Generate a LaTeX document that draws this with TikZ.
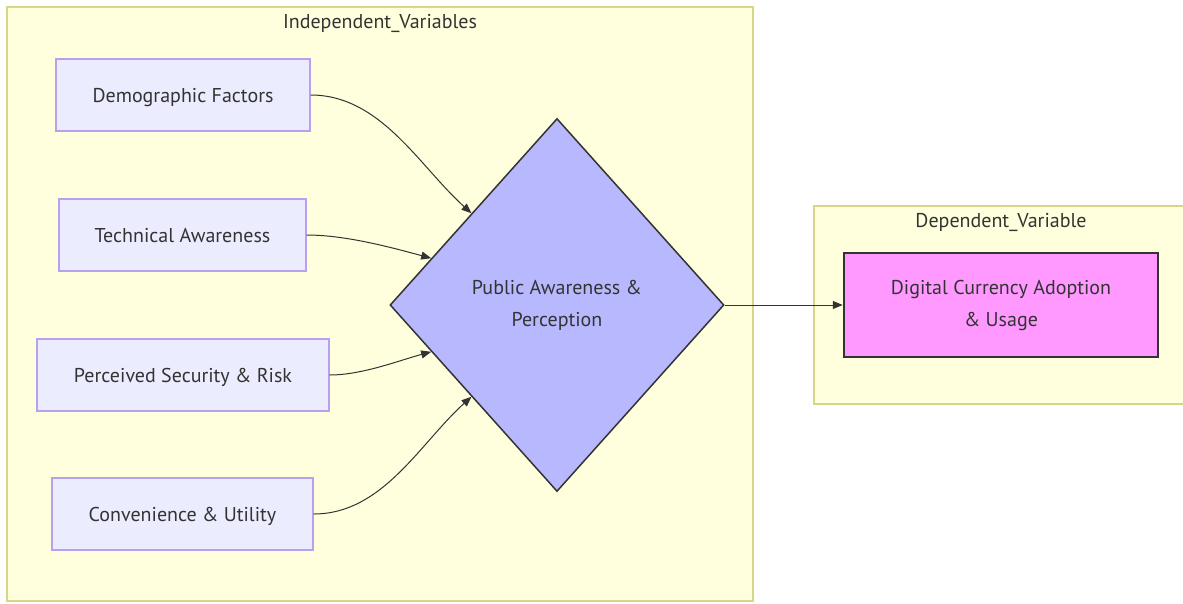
\documentclass[tikz,border=0pt]{standalone}
\usepackage{fontspec}
\setmainfont{PT Sans}
\usetikzlibrary{shapes.geometric,arrows.meta,calc}
\definecolor{clfill}{HTML}{FFFFDE}
\definecolor{clstroke}{HTML}{D6D68A}
\definecolor{nfill}{HTML}{ECECFF}
\definecolor{nstroke}{HTML}{B9A0EE}
\definecolor{dfill}{HTML}{B8B8FF}
\definecolor{tfill}{HTML}{FF99FF}
\definecolor{txt}{HTML}{333333}
\tikzset{
  cluster/.style={draw=clstroke, fill=clfill, line width=1.5pt},
  clabel/.style={text=txt, font=\fontsize{20}{24}\selectfont, inner sep=0pt},
  factor/.style={draw=nstroke, fill=nfill, line width=1.3pt, text=txt, font=\fontsize{20}{24}\selectfont, inner sep=0pt, text depth=0pt},
  hub/.style={diamond, draw=txt, fill=dfill, line width=1.5pt, text=txt, font=\fontsize{20}{32}\selectfont, align=center, inner sep=0pt, minimum width=334pt, minimum height=373pt},
  target/.style={draw=txt, fill=tfill, line width=2.5pt, text=txt, font=\fontsize{20}{32}\selectfont, align=center, inner sep=0pt},
  link/.style={draw=txt, line width=1pt, -{Triangle[length=10pt,width=8pt]}}
}
\begin{document}
\begin{tikzpicture}[x=1pt,y=-1pt]
\useasboundingbox (0,0) rectangle (1183,603);
\fill[white] (0,0) rectangle (1183,603);
\draw[cluster] (7,7) rectangle (753,601);
\node[clabel] (lind) at (380,23) {Independent\_Variables};
\draw[cluster] (814,206) rectangle (1190,404);
\node[clabel] (ldep) at (1001,222) {Dependent\_Variable};

\node[factor, minimum width=254pt, minimum height=72pt] (demo) at (183,95) {Demographic Factors};
\node[factor, minimum width=247pt, minimum height=72pt] (tech) at (182.5,235) {Technical Awareness};
\node[factor, minimum width=292pt, minimum height=72pt] (sec) at (183,375) {Perceived Security \& Risk};
\node[factor, minimum width=261pt, minimum height=72pt] (conv) at (182.5,514) {Convenience \& Utility};

\node[hub] (pap) at (557,305) {Public Awareness \&\\Perception};
\node[target, minimum width=314pt, minimum height=104pt] (dca) at (1001,305) {Digital Currency Adoption\\\& Usage};

\draw[link] (demo.east) to[out=0,in=138,looseness=0.9] ($(pap.west)!0.49!(pap.north)$);
\draw[link] (tech.east) to[out=0,in=165,looseness=0.8] ($(pap.west)!0.25!(pap.north)$);
\draw[link] (sec.east) to[out=0,in=195,looseness=0.8] ($(pap.west)!0.25!(pap.south)$);
\draw[link] (conv.east) to[out=0,in=222,looseness=0.9] ($(pap.west)!0.49!(pap.south)$);
\draw[link] (pap.east) -- (dca.west);
\end{tikzpicture}
\end{document}
